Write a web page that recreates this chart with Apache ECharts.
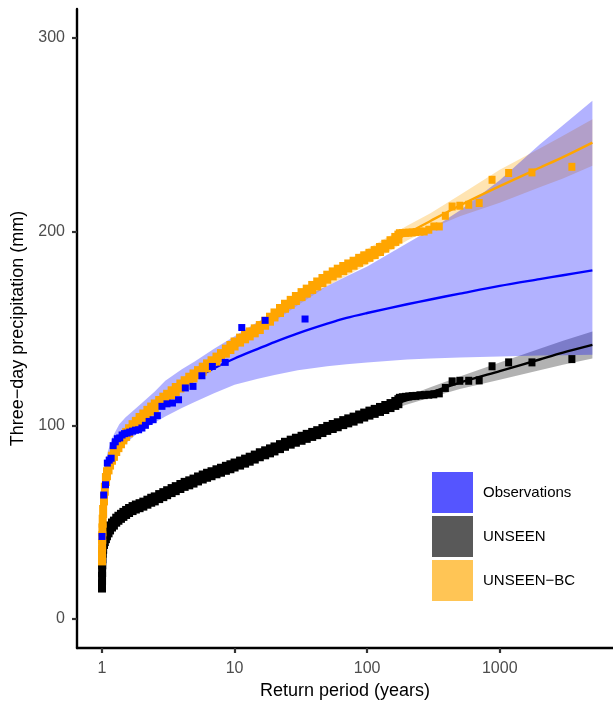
<!DOCTYPE html>
<html><head><meta charset="utf-8">
<script src="https://cdn.jsdelivr.net/npm/echarts@6/dist/echarts.min.js"></script>
<style>html,body{margin:0;padding:0;background:#fff}#c{width:613px;height:701px}</style>
</head><body><div id="c"></div>
<script>
// ---- tick labels ----
const xTicks = [1, 10, 100, 1000];
const yTicks = [0, 100, 200, 300];
const legendNames = ['Observations', 'UNSEEN', 'UNSEEN\u2212BC'];

// ---- fitted (GEV) return-value curves and confidence bands ----
const fitRP = [1.01, 1.03, 1.05, 1.1, 1.2, 1.35, 1.5, 1.75, 2, 2.5, 3, 4, 5, 7, 10, 15, 20, 30, 50, 70, 100, 200, 300, 500, 1000, 2000, 3000, 5000];

const obsFit   = [53, 64, 70, 79, 87, 93, 97, 101.5, 105, 110, 114.5, 120, 124, 129.5, 134.5, 139.5, 143, 147.5, 152.5, 155.5, 158, 162.5, 165, 168, 172, 175.5, 177.5, 180];
const obsLower = [49, 59, 64.5, 73, 81.5, 87, 90.5, 94.5, 97.5, 101.5, 104.5, 109, 112, 116.5, 121, 124, 126, 128.5, 130.5, 131.5, 132.5, 134, 134.5, 135, 135.5, 136, 136.2, 136.5];
const obsUpper = [57, 69, 76, 86, 94, 100.5, 104, 108, 111.5, 117.5, 123, 129, 133, 139.5, 146, 153.5, 158.5, 165, 172, 177, 182, 194, 201, 211, 226.5, 245, 255, 267.6];

const bcFit   = [50, 62, 68, 76, 84, 90.5, 95, 100.5, 104.5, 110, 114.5, 121, 126, 133.5, 141.5, 150, 156.5, 165, 175.5, 181, 187, 199, 205.5, 213.5, 223.5, 233, 238.5, 246];
const bcLower = [48.5, 60.5, 66.5, 74.5, 82.5, 89, 93.5, 99, 103, 108.3, 112.8, 119.2, 124, 131.4, 139.2, 147.5, 153.8, 162, 172, 177.3, 183, 195.5, 201.5, 208, 215, 223, 227.5, 234];
const bcUpper = [51.5, 63.5, 69.5, 77.5, 85.5, 92, 96.5, 102, 106, 111.7, 116.2, 122.8, 128, 135.6, 143.8, 152.5, 159.2, 168, 179, 184.7, 191, 203, 209.5, 219, 232, 243, 249.5, 258];

const unFit   = [33, 38, 40.5, 44, 48, 51.5, 54, 56.5, 58.5, 61.5, 64, 68, 71, 75, 79.5, 84.5, 88, 93, 98.5, 102, 106, 113, 117, 122, 128, 134, 137.5, 141.5];
const unLower = [32, 37, 39.5, 43, 47, 50.5, 53, 55.5, 57.5, 60.5, 63, 67, 70, 74, 78.5, 83.4, 86.8, 91.7, 97, 100.4, 104.2, 110.8, 114.4, 118.8, 123.5, 128.5, 131.3, 134.5];
const unUpper = [34, 39, 41.5, 45, 49, 52.5, 55, 57.5, 59.5, 62.5, 65, 69, 72, 76, 80.5, 85.6, 89.2, 94.3, 100, 103.6, 107.8, 115.2, 119.6, 125.2, 132.5, 139.5, 143.7, 148.5];

// ---- empirical points: observations ----
const obsRP  = [34, 17, 11.33, 8.5, 6.8, 5.67, 4.857, 4.25, 3.778, 3.4, 3.091, 2.833, 2.615, 2.429, 2.267, 2.125, 2.0, 1.889, 1.789, 1.7, 1.619, 1.545, 1.478, 1.417, 1.36, 1.308, 1.259, 1.214, 1.172, 1.133, 1.097, 1.0625, 1.0303, 1.0];
const obsVal = [154.9, 154.2, 150.5, 132.5, 130.4, 125.6, 120.1, 119.3, 113.2, 111.5, 111.1, 109.8, 105, 102.9, 102, 100, 98.6, 97.7, 97.5, 97, 96.5, 96, 95.7, 95, 93.5, 93.1, 91.5, 89.5, 83, 82, 80.5, 69.3, 64, 42.6];

// ---- empirical points: large ensemble (UNSEEN and UNSEEN-BC) ----
const ensRP = [1.0003, 1.0008, 1.002, 1.004, 1.007, 1.012, 1.02, 1.035, 1.05, 1.07,
  1.09, 1.12, 1.15, 1.19, 1.23, 1.28, 1.33, 1.39, 1.45, 1.52,
  1.6, 1.7, 1.8, 1.92, 2.05, 2.2, 2.35, 2.5, 2.7, 2.9,
  3.1, 3.35, 3.6, 3.9, 4.2, 4.55, 4.9, 5.3, 5.75, 6.2,
  6.7, 7.3, 7.9, 8.6, 9.3, 10, 11, 12, 13, 14.2,
  15.5, 17, 18.5, 20, 22, 24, 26.5, 29, 32, 35,
  38.5, 42, 46, 50, 55, 60, 66, 72, 79, 87,
  95, 104, 114, 125, 137, 150, 163, 172,
  175, 184.2, 194.4, 205.9, 218.75, 233.3, 250, 269.2, 291.7, 318.2,
  350, 388.9, 437.5, 500, 583.3, 700, 875, 1166.7, 1750, 3500];
const unVal = [17, 21, 25, 29, 32, 35, 37, 39.5, 41, 42.5,
  44, 45.5, 47, 48.5, 49.5, 51, 52, 53, 54, 55,
  56, 57, 57.8, 58.5, 59.3, 60.3, 61.3, 62, 63.2, 64.2,
  65.2, 66.3, 67.3, 68.4, 69.5, 70.3, 71.2, 72.3, 73.3, 74.2,
  75, 76, 76.8, 77.8, 78.6, 79.5, 80.5, 81.5, 82.5, 83.6,
  84.8, 85.8, 86.8, 87.8, 89, 90.2, 91.3, 92.3, 93.3, 94.3,
  95.3, 96.2, 97.3, 98.4, 99.4, 100.3, 101.4, 102.3, 103.2, 104.3,
  105.3, 106.3, 107.2, 108.2, 109.2, 110.2, 111.3, 112.2,
  114.2, 114.5, 114.7, 114.9, 115.1, 115.2, 115.5, 115.6, 115.8, 116,
  116.5, 119.3, 122.7, 123, 123, 123.2, 130.5, 132.5, 132.5, 134.2];
const bcVal = [31, 34, 38, 42, 46, 50.5, 55.5, 62, 67, 72,
  75, 78, 80.5, 83, 85, 87.5, 89.5, 91.5, 93.5, 95.3,
  97.2, 99.3, 101, 103, 104.8, 106.7, 108.4, 110, 111.8, 113.5,
  115, 116.8, 118.5, 120.3, 122, 123.8, 125.5, 127.2, 129, 130.7,
  132.3, 134.2, 136, 138.3, 140.2, 142, 144, 145.7, 147.2, 148.8,
  150.5, 152.7, 154.8, 157, 159.3, 161.5, 163.5, 165.5, 167.5, 169.3,
  171.2, 173, 174.8, 176.5, 178.2, 179.6, 181, 182.3, 183.7, 185.2,
  186.5, 187.8, 189.2, 190.8, 192.5, 194.3, 196, 197.2,
  199.2, 199.3, 199.4, 199.5, 199.6, 199.8, 200, 200.1, 201, 202.7,
  202.7, 208.2, 213, 213.4, 213.9, 214.8, 226.8, 230.3, 230.6, 233.5];

const FONT = '"Liberation Sans", Arial, Helvetica, sans-serif';
const pairs = (xs, ys) => xs.map((x, i) => [x, ys[i]]);

// confidence band: one polygon built through the axes' coordinate system
function bandSeries(name, lower, upper, color) {
  return {
    name, type: 'custom', silent: true, clip: true, z: 2,
    data: fitRP.map((x, i) => [x, lower[i], upper[i]]),
    encode: { x: 0, y: [1, 2] },
    renderItem: (params, api) => {
      if (params.dataIndex !== 0) return null;
      const pts = [];
      for (let i = 0; i < fitRP.length; i++) pts.push(api.coord([fitRP[i], upper[i]]));
      for (let i = fitRP.length - 1; i >= 0; i--) pts.push(api.coord([fitRP[i], lower[i]]));
      return { type: 'polygon', shape: { points: pts }, style: { fill: color, stroke: null } };
    }
  };
}
function lineSeries(name, ys, color) {
  return { name, type: 'line', data: pairs(fitRP, ys), symbol: 'none', smooth: 0.3,
    lineStyle: { color, width: 2.4 }, itemStyle: { color }, silent: true, z: 2 };
}
function pointSeries(name, xs, ys, color, dense) {
  return { name, type: 'scatter', data: pairs(xs, ys), symbol: 'rect',
    symbolSize: dense ? (v => v[0] < 173 ? [8, 13] : [7, 8]) : [7, 7],
    itemStyle: { color, opacity: 1 }, silent: true, z: 2 };
}

const series = [
  bandSeries(legendNames[1], unLower, unUpper, 'rgba(0,0,0,0.3)'),
  pointSeries(legendNames[1], ensRP, unVal, '#000000', true),
  lineSeries(legendNames[1], unFit, '#000000'),
  bandSeries(legendNames[2], bcLower, bcUpper, 'rgba(255,165,0,0.3)'),
  pointSeries(legendNames[2], ensRP, bcVal, '#FFA500', true),
  lineSeries(legendNames[2], bcFit, '#FFA500'),
  bandSeries(legendNames[0], obsLower, obsUpper, 'rgba(0,0,255,0.3)'),
  lineSeries(legendNames[0], obsFit, '#0000FF'),
  pointSeries(legendNames[0], obsRP, obsVal, '#0000FF', false)
];

const chart = echarts.init(document.getElementById('c'), null, { renderer: 'canvas' });
chart.setOption({
  animation: false,
  backgroundColor: '#ffffff',
  textStyle: { fontFamily: FONT },
  grid: { left: 77, right: 0, top: 9, bottom: 53, containLabel: false, outerBoundsMode: 'none' },
  legend: {
    orient: 'vertical', left: 432, top: 472, padding: 0, itemWidth: 41, itemHeight: 41, itemGap: 3,
    icon: 'rect', selectedMode: false,
    itemStyle: { borderWidth: 0 },
    textStyle: { fontFamily: FONT, fontSize: 15, color: '#000000', padding: [0, 0, 0, 5] },
    data: [
      { name: legendNames[0], icon: 'rect', itemStyle: { color: '#5555FF', borderWidth: 0 } },
      { name: legendNames[1], icon: 'rect', itemStyle: { color: '#595959', borderWidth: 0 } },
      { name: legendNames[2], icon: 'rect', itemStyle: { color: '#FFC555', borderWidth: 0 } }
    ]
  },
  xAxis: {
    type: 'log', logBase: 10, min: 0.6477, max: 7150,
    name: 'Return period (years)', nameLocation: 'middle', nameGap: 33,
    nameTextStyle: { fontFamily: FONT, fontSize: 18, color: '#000000' },
    axisLine: { show: true, onZero: false, lineStyle: { color: '#000000', width: 2.4 } },
    axisTick: { show: true, length: 5, customValues: xTicks, lineStyle: { color: '#333333', width: 2.2 } },
    axisLabel: { customValues: xTicks, margin: 13, fontSize: 16, color: '#4D4D4D', fontFamily: FONT,
      formatter: v => String(Math.round(v)) },
    splitLine: { show: false }, minorTick: { show: false }, minorSplitLine: { show: false }
  },
  yAxis: {
    type: 'value', min: -15, max: 315,
    name: 'Three\u2212day precipitation (mm)', nameLocation: 'middle', nameGap: 46,
    nameTextStyle: { fontFamily: FONT, fontSize: 18, color: '#000000' },
    axisLine: { show: true, onZero: false, lineStyle: { color: '#000000', width: 2.4 } },
    axisTick: { show: true, length: 5, customValues: yTicks, lineStyle: { color: '#333333', width: 2.2 } },
    axisLabel: { customValues: yTicks, margin: 12, fontSize: 16, color: '#4D4D4D', fontFamily: FONT },
    splitLine: { show: false }
  },
  series
});
</script>
</body></html>
